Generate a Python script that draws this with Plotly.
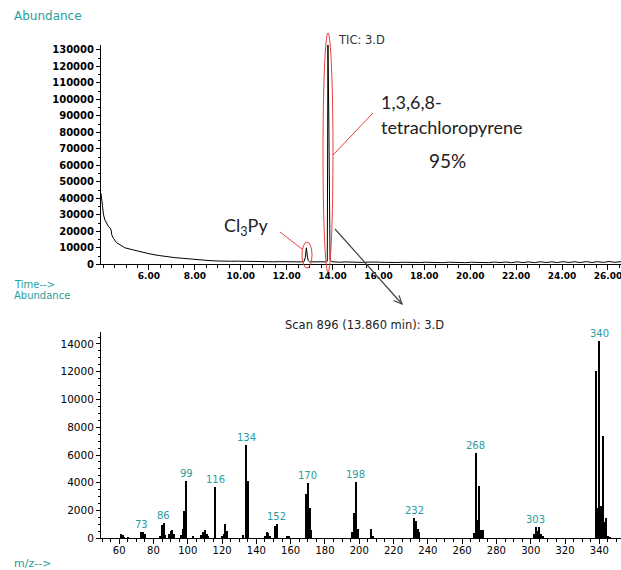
import plotly.graph_objects as go

FIG_W, FIG_H = 621, 570

# ---- Total ion chromatogram (TIC: 3.D) ----
tic_time = [3.91, 3.96, 4.02, 4.08, 4.16, 4.24, 4.31, 4.35, 4.38, 4.45, 4.58, 4.74,
            4.95, 5.32, 5.70, 6.04, 6.40, 6.77, 7.10, 7.50, 7.85, 8.20, 8.66, 9.00,
            9.30, 9.60, 9.90, 10.20, 10.50, 10.80, 11.10, 11.40, 11.70, 12.00, 12.30,
            12.55, 12.75, 12.81, 12.86, 12.90, 12.94, 13.00, 13.20, 13.45, 13.65,
            13.74, 13.77, 13.80, 13.82, 13.84, 13.86, 13.89, 13.95, 14.05, 14.30,
            14.55, 14.80, 15.05, 15.30, 15.55, 15.80, 16.05, 16.30, 16.55, 16.80,
            17.05, 17.30, 17.55, 17.80, 18.05, 18.30, 18.55, 18.80, 19.05, 19.30,
            19.55, 19.80, 20.05, 20.30, 20.55, 20.80, 21.05, 21.30, 21.55, 21.80,
            22.05, 22.30, 22.55, 22.80, 23.05, 23.30, 23.55, 23.80, 24.05, 24.30,
            24.55, 24.80, 25.05, 25.30, 25.55, 25.80, 26.05, 26.30, 26.57]
tic_abund = [43000, 36000, 30000, 26900, 24500, 22800, 21900, 20800, 17800, 15800,
             13200, 11700, 10000, 8700, 7300, 6300, 5400, 4600, 4100, 3600, 3100,
             2600, 2200, 2000, 2150, 1850, 1900, 1750, 1800, 1600, 1700, 1500, 1600,
             1450, 1500, 1400, 1450, 4000, 10000, 5000, 2200, 1500, 1400, 1350, 1400,
             1500, 1800, 133000, 108000, 85000, 30000, 3000, 1600, 1500, 1250, 1450,
             1200, 1400, 1150, 1350, 1100, 1300, 1150, 1350, 1100, 1250, 1050, 1300,
             1100, 1250, 1050, 1200, 1000, 1250, 1050, 1200, 1000, 1250, 1050, 1300,
             1000, 1350, 1050, 1400, 1000, 1500, 1050, 1450, 1000, 1550, 1100, 1500,
             1050, 1600, 1100, 1550, 1050, 1650, 1100, 1600, 1150, 1700, 1200, 1600]
tic_tickvals = [6, 8, 10, 12, 14, 16, 18, 20, 22, 24, 26]
tic_ticktext = ["6.00", "8.00", "10.00", "12.00", "14.00", "16.00", "18.00",
                "20.00", "22.00", "24.00", "26.00"]
tic_abund_ticks = [0, 10000, 20000, 30000, 40000, 50000, 60000, 70000, 80000,
                   90000, 100000, 110000, 120000, 130000]

# ---- Mass spectrum of scan 896 (13.860 min) ----
ms_mz = [61, 62, 63, 65, 73, 74, 75, 84, 85, 86, 87, 89, 90, 91, 92,
         96, 97, 98, 99, 103, 108, 109, 110, 111, 112, 116, 120, 121, 122, 123,
         132, 134, 135, 145, 146, 147, 148, 151, 152, 158, 159,
         169, 170, 171, 172, 196, 197, 198, 199, 207, 208,
         232, 233, 234, 235, 267, 268, 269, 270, 271, 272,
         302, 303, 304, 305, 306, 307,
         338, 339, 340, 341, 342, 343, 344, 345, 346]
ms_abund = [300, 250, 120, 100, 450, 450, 300, 150, 950, 1100, 250, 300, 550, 600, 300,
            250, 650, 1950, 4150, 150, 250, 450, 580, 340, 170, 3700, 200, 300, 1000, 500,
            250, 6700, 4150, 150, 450, 350, 150, 900, 1000, 150, 150,
            3200, 3950, 2150, 600, 430, 1800, 4050, 700, 700, 150,
            1450, 1250, 700, 430, 360, 6150, 1300, 3750, 600, 600,
            310, 850, 550, 850, 310, 170,
            12050, 2200, 14200, 2350, 7400, 1150, 1450, 170, 100]
ms_peak_labels = [73, 86, 99, 116, 134, 152, 170, 198, 232, 268, 303, 340]
ms_tickvals = [60, 80, 100, 120, 140, 160, 180, 200, 220, 240, 260, 280, 300, 320, 340]
ms_abund_ticks = [0, 2000, 4000, 6000, 8000, 10000, 12000, 14000]

TEAL = "#2a9d9d"
TICK_FONT = "DejaVu Sans"


def px(x):
    return x / FIG_W


def py(y):
    return 1 - y / FIG_H


fig = go.Figure()
fig.add_trace(go.Scatter(x=tic_time, y=tic_abund, mode="lines",
                         line=dict(color="black", width=1), xaxis="x", yaxis="y",
                         hoverinfo="skip"))
fig.add_trace(go.Bar(x=ms_mz, y=ms_abund, width=0.6,
                     marker=dict(color="black", line=dict(width=0)),
                     xaxis="x2", yaxis="y2", hoverinfo="skip"))

axis_common = dict(showline=True, linecolor="black", linewidth=1, showgrid=False,
                   zeroline=False, ticks="outside", tickcolor="black",
                   automargin=False)

fig.update_layout(
    width=FIG_W, height=FIG_H,
    margin=dict(l=0, r=0, t=0, b=0),
    paper_bgcolor="white", plot_bgcolor="white",
    showlegend=False, bargap=0,
    xaxis=dict(domain=[px(101), 1], range=[3.91, 26.57], anchor="y",
               tickvals=tic_tickvals, ticktext=tic_ticktext, ticklen=5,
               tickfont=dict(family=TICK_FONT, size=9, color="black", weight="bold"),
               ticklabelstandoff=-2, ticklabeloverflow="allow",
               minor=dict(dtick=0.5, tick0=4, ticklen=3, ticks="outside",
                          tickcolor="black"),
               **axis_common),
    yaxis=dict(domain=[py(264.3), py(45)], range=[0, 133000], anchor="x",
               tickvals=tic_abund_ticks, ticktext=[str(v) for v in tic_abund_ticks],
               ticklen=4, ticklabeloverflow="allow",
               tickfont=dict(family=TICK_FONT, size=10, color="black", weight="bold"),
               minor=dict(dtick=5000, ticklen=2, ticks="outside", tickcolor="black"),
               **axis_common),
    xaxis2=dict(domain=[px(101), 1], range=[49.4, 352.65], anchor="y2",
                tickvals=ms_tickvals, ticktext=[str(v) for v in ms_tickvals],
                ticklen=5, ticklabeloverflow="allow",
                tickfont=dict(family=TICK_FONT, size=10, color="black"),
                ticklabelstandoff=-2,
                minor=dict(dtick=5, tick0=0, ticklen=3, ticks="outside",
                           tickcolor="black"),
                **axis_common),
    yaxis2=dict(domain=[py(538.3), py(332)], range=[0, 14860], anchor="x2",
                tickvals=ms_abund_ticks, ticktext=[str(v) for v in ms_abund_ticks],
                ticklen=4, ticklabeloverflow="allow",
                tickfont=dict(family=TICK_FONT, size=10.5, color="black"),
                minor=dict(dtick=500, ticklen=2, ticks="outside", tickcolor="black"),
                **axis_common),
)

annotations = []


def text_at(x, y, text, size, color, family=TICK_FONT, xanchor="left", weight="normal"):
    annotations.append(dict(xref="paper", yref="paper", x=px(x), y=py(y), text=text,
                            showarrow=False, xanchor=xanchor, yanchor="middle",
                            font=dict(family=family, size=size, color=color,
                                      weight=weight)))


text_at(12, 16, "Abundance", 12, TEAL)
text_at(12, 284, "Time-->", 10, TEAL)
text_at(12, 296, "Abundance", 10, TEAL)
text_at(12, 563, "m/z-->", 11, TEAL)
text_at(336, 40, "TIC: 3.D", 11.5, "#333333")
text_at(365, 325, "Scan 896 (13.860 min): 3.D", 11.5, "#222222", xanchor="center")

BIG_FONT = "Lato"
text_at(379, 102, "1,3,6,8-", 18, "#222222", family=BIG_FONT)
text_at(379, 127, "tetrachloropyrene", 18, "#222222", family=BIG_FONT)
text_at(427, 160, "95%", 19, "#222222", family=BIG_FONT)
text_at(222, 226, "Cl<sub>3</sub>Py", 18, "#222222", family=BIG_FONT)

# m/z labels above the main fragment ions
for mz in ms_peak_labels:
    annotations.append(dict(xref="x2", yref="y2", x=mz, y=ms_abund[ms_mz.index(mz)],
                            text=str(mz), showarrow=False, yanchor="bottom",
                            xanchor="center", yshift=0,
                            font=dict(family=TICK_FONT, size=10, color=TEAL)))

fig.update_layout(annotations=annotations)

RED = "#e8403c"
shapes = [
    # ellipse round the tetrachloropyrene peak and its pointer
    dict(type="circle", xref="paper", yref="paper", x0=px(323), x1=px(333),
         y0=py(33), y1=py(272), line=dict(color=RED, width=1)),
    dict(type="line", xref="paper", yref="paper", x0=px(333), y0=py(155),
         x1=px(373), y1=py(113), line=dict(color=RED, width=1)),
    # ellipse round the Cl3Py peak and its pointer
    dict(type="circle", xref="paper", yref="paper", x0=px(302), x1=px(312),
         y0=py(242), y1=py(268), line=dict(color=RED, width=1)),
    dict(type="line", xref="paper", yref="paper", x0=px(280), y0=py(232),
         x1=px(302), y1=py(249), line=dict(color=RED, width=1)),
    # arrow from the peak down to its mass spectrum
    dict(type="line", xref="paper", yref="paper", x0=px(335), y0=py(229),
         x1=px(402), y1=py(304), line=dict(color="#444444", width=1.2)),
    dict(type="path", xref="paper", yref="paper",
         path=f"M {px(393.4)},{py(300.5)} L {px(402)},{py(304)} L {px(399.1)},{py(295.4)}",
         line=dict(color="#444444", width=1.2)),
]
fig.update_layout(shapes=shapes)

fig.write_html("out.html")
